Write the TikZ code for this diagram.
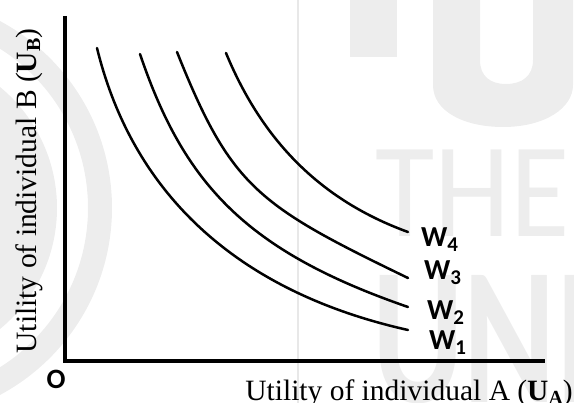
\documentclass[tikz,border=0pt]{standalone}
\usepackage{fontspec}
\setmainfont{Liberation Serif}
\newfontfamily\labelfont{Carlito}
\begin{document}
\begin{tikzpicture}[x=1pt,y=-1pt,
  curve/.style={line width=2.5pt,line cap=round},
  axis/.style={line width=3.2pt},
  wlabel/.style={anchor=base west,inner sep=0pt,font=\labelfont\bfseries\fontsize{29}{29}\selectfont},
  axislabel/.style={inner sep=0pt,font=\fontsize{29.5}{31}\selectfont},
  emblem/.style={black!7}]
% page frame
\useasboundingbox (0,0) rectangle (574,403);
\clip (0,0) rectangle (574,403);

% faint background emblem
\begin{scope}[emblem]
  \fill (-100,208) circle (157);
  \draw[line width=24pt] (-100,208) circle (200);
  \draw[line width=1.5pt,black!9] (298,0) -- (298,403);
  \fill (350,0) rectangle (397,57);
  \fill (433,0) -- (433,85) .. controls (433,112) and (465,127) .. (503,127)
        .. controls (545,127) and (573,108) .. (573,85) -- (573,0) -- (533,0)
        -- (533,60) .. controls (533,76) and (522,84) .. (506,84)
        .. controls (490,84) and (480,76) .. (480,60) -- (480,0) -- cycle;
  \node[anchor=base west,inner sep=0pt,xscale=0.9,font=\labelfont\fontsize{135}{135}\selectfont]
    (markA) at (375,237) {THE};
  \node[anchor=base west,inner sep=0pt,yscale=1.4,font=\labelfont\bfseries\fontsize{140}{140}\selectfont]
    (markB) at (372,403) {UNI};
\end{scope}

% axes
\coordinate (O) at (65,361);
\coordinate (ytop) at (65,16);
\coordinate (xend) at (545,361);
\draw[axis] (ytop) -- (O) -- (xend);

% welfare curves
\draw[curve] (97,48) .. controls (132,191) and (234,291) .. (408,330);
\draw[curve] (140,54) .. controls (184,184) and (246,251) .. (408,307);
\draw[curve] (177,52) .. controls (231,187) and (257,205) .. (408,278);
\draw[curve] (226,53) .. controls (262,140) and (320,200) .. (408,232);

% curve labels
\newcommand{\wsub}[1]{\raisebox{-5pt}{\fontsize{21}{21}\selectfont #1}}
\node[wlabel] (w4) at (421,247) {W\wsub{4}};
\node[wlabel] (w3) at (424,280) {W\wsub{3}};
\node[wlabel] (w2) at (427,320) {W\wsub{2}};
\node[wlabel] (w1) at (429,350) {W\wsub{1}};

% origin and axis titles
\node[inner sep=0pt,font=\labelfont\bfseries\fontsize{28}{28}\selectfont] (o) at (56,379) {O};
\node[axislabel,anchor=base east] (xl) at (573,401)
  {Utility of individual A (\textbf{U}\raisebox{-4pt}{\fontsize{20}{20}\selectfont\textbf{A}})};
\node[axislabel,anchor=base,rotate=90] (yl) at (36,191)
  {Utility of individual B (\textbf{U}\raisebox{-4pt}{\fontsize{20}{20}\selectfont\textbf{B}})};
\end{tikzpicture}
\end{document}
